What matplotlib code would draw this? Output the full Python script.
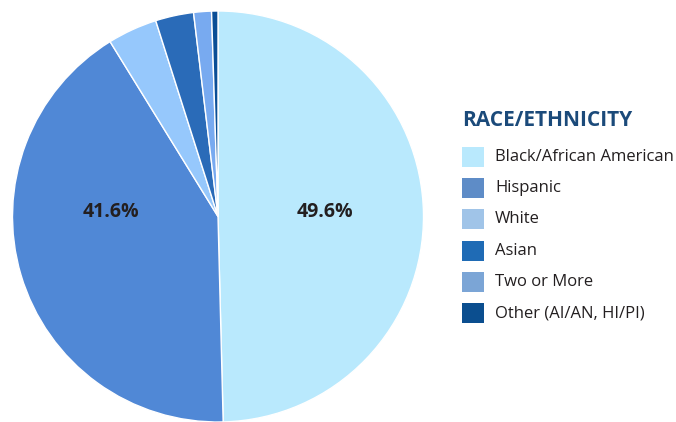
import matplotlib.pyplot as plt
from matplotlib.patches import Rectangle

# data
groups = ['Black/African American', 'Hispanic', 'White', 'Asian', 'Two or More', 'Other (AI/AN, HI/PI)']
shares = [49.6, 41.6, 3.9, 3.0, 1.4, 0.5]
pie_colors = ['#B9E9FD', '#5088D6', '#96C8FC', '#2A6BB8', '#78AAF0', '#0A4E96']
legend_colors = ['#B9E9FD', '#5E8CC7', '#A0C4E8', '#1F6BB5', '#7BA5D6', '#0B4E8F']

plt.rcParams['font.family'] = ['Open Sans', 'DejaVu Sans']

fig = plt.figure(figsize=(6.76, 4.22), dpi=100)
ax = fig.add_axes([12/676, 0/422, 412/676, 411/422])

wedges, texts = ax.pie(shares, colors=pie_colors, startangle=90, counterclock=False,
                       wedgeprops=dict(edgecolor='white', linewidth=1))
ax.set_xlim(-1, 1)
ax.set_ylim(-1, 1)
ax.set_aspect('equal')
for w in wedges:
    w.set_clip_on(False)

# labels for the two big slices, side by side
ax.text(0.52, 0.02, '%.1f%%' % shares[0], fontsize=14, fontweight='bold',
        color='#231F20', ha='center', va='center')
ax.text(-0.52, 0.02, '%.1f%%' % shares[1], fontsize=14, fontweight='bold',
        color='#231F20', ha='center', va='center')

#! legend drawn by hand
fig.text(462/676, 1 - 121/422, 'RACE/ETHNICITY', fontsize=15, fontweight='bold',
         color='#1B4A7A', va='center', ha='left')
y0 = 157
for i, (g, c) in enumerate(zip(groups, legend_colors)):
    y = y0 + i * 31.2
    fig.patches.append(Rectangle((462/676, 1 - (y + 10)/422), 22/676, 20/422,
                                 transform=fig.transFigure, facecolor=c, edgecolor='none'))
    fig.text(495/676, 1 - y/422, g, fontsize=12, color='#231F20', va='center', ha='left')

fig.savefig('out.png', dpi=100)
